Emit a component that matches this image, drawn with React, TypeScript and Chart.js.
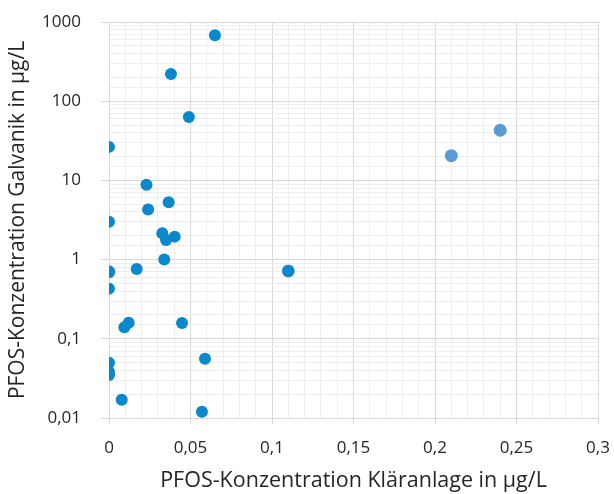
import React, { useEffect, useRef } from "react";
import { Chart, registerables } from "chart.js";

Chart.register(...registerables);

// Main series (dark blue)
const seriesAX = [0.065, 0.038, 0.049, 0, 0.023, 0.0366, 0.024, 0, 0.0327, 0.0403, 0.035, 0.0339, 0.017, 0, 0.0121, 0.0094, 0.0448, 0, 0, 0, 0.0589, 0.0078, 0.057, 0, 0.11];
const seriesAY = [680, 220, 63, 26.5, 8.8, 5.3, 4.3, 3.0, 2.15, 1.95, 1.77, 1.0, 0.76, 0.43, 0.16, 0.14, 0.158, 0.05, 0.0385, 0.035, 0.056, 0.017, 0.012, 0.7, 0.72];
// Second series (light blue)
const seriesBX = [0.21, 0.24, 0.11, 0];
const seriesBY = [20.5, 43, 0.72, 0.7];

const xTicks = { min: 0, max: 0.3, step: 0.01, labelStep: 0.05 };
const yTicks = { min: 0.01, max: 1000 };

const xTitle = "PFOS-Konzentration Kläranlage in µg/L";
const yTitle = "PFOS-Konzentration Galvanik in µg/L";

const DARK = "#0A88CC";
const LIGHT = "#5B9BD5";
const MAJOR = "#D9D9D9";
const MINOR = "#EEEEEE";
const FONT = "'Open Sans', sans-serif";
const TXT = "#262626";

const isMajorX = (v: number) => Math.abs(v / xTicks.labelStep - Math.round(v / xTicks.labelStep)) < 1e-6;
const isMajorY = (v: number) => Math.abs(Math.log10(v) - Math.round(Math.log10(v))) < 1e-6;
const fmt = (v: number) => String(parseFloat(v.toPrecision(6))).replace(".", ",");

export default function App() {
  const ref = useRef<HTMLCanvasElement>(null);
  useEffect(() => {
    if (!ref.current) return;
    const chart = new Chart(ref.current, {
      type: "scatter",
      data: {
        datasets: [
          {
            data: seriesAX.map((x, i) => ({ x, y: seriesAY[i] })),
            backgroundColor: DARK,
            borderColor: DARK,
            pointRadius: 6,
            pointBorderWidth: 0,
            order: 0,
          },
          {
            data: seriesBX.map((x, i) => ({ x, y: seriesBY[i] })),
            backgroundColor: LIGHT,
            borderColor: LIGHT,
            pointRadius: 6.5,
            pointBorderWidth: 0,
            order: 1,
          },
        ],
      },
      options: {
        responsive: false,
        animation: false,
        layout: { padding: { top: 22, right: 16, bottom: 0, left: 5 } },
        plugins: { legend: { display: false }, tooltip: { enabled: false } },
        scales: {
          x: {
            type: "linear",
            min: xTicks.min,
            max: xTicks.max,
            border: { color: MAJOR },
            afterFit: (s: any) => {
              s.height = 76;
              s.paddingLeft = 0;
              s.paddingRight = 0;
            },
            grid: {
              color: (c: any) => (isMajorX(c.tick.value) ? MAJOR : MINOR),
              tickColor: (c: any) => (isMajorX(c.tick.value) ? MAJOR : "rgba(0,0,0,0)"),
              tickLength: 6,
            },
            ticks: {
              stepSize: xTicks.step,
              autoSkip: false,
              maxTicksLimit: 100,
              maxRotation: 0,
              color: TXT,
              font: { family: FONT, size: 17 },
              padding: 14,
              callback: (v: any) => (isMajorX(Number(v)) ? fmt(Number(v)) : ""),
            },
            title: {
              display: true,
              text: xTitle,
              color: TXT,
              font: { family: FONT, size: 21.5 },
              padding: { top: 0, bottom: 0 },
            },
          },
          y: {
            type: "logarithmic",
            min: yTicks.min,
            max: yTicks.max,
            border: { color: MAJOR },
            afterFit: (s: any) => {
              s.width = 104;
              s.paddingTop = 0;
              s.paddingBottom = 0;
            },
            grid: {
              color: (c: any) => (isMajorY(c.tick.value) ? MAJOR : MINOR),
              tickColor: (c: any) => (isMajorY(c.tick.value) ? MAJOR : "rgba(0,0,0,0)"),
              tickLength: 8,
            },
            ticks: {
              autoSkip: false,
              color: TXT,
              font: { family: FONT, size: 17 },
              padding: 20,
              callback: (v: any) => (isMajorY(Number(v)) ? fmt(Number(v)) : ""),
            },
            title: {
              display: true,
              text: yTitle,
              color: TXT,
              font: { family: FONT, size: 21 },
              padding: { top: 0, bottom: 0 },
            },
          },
        },
      },
      plugins: [
        {
          id: "bg",
          beforeDraw: (ch: any) => {
            const ctx = ch.ctx;
            ctx.save();
            ctx.fillStyle = "#fff";
            ctx.fillRect(0, 0, ch.width, ch.height);
            ctx.restore();
          },
        },
      ],
    } as any);
    return () => chart.destroy();
  }, []);
  return (
    <div style={{ position: "absolute", left: 0, top: 0, width: 614, height: 494, background: "#fff" }}>
      <canvas ref={ref} width={614} height={494} style={{ display: "block" }} />
    </div>
  );
}
